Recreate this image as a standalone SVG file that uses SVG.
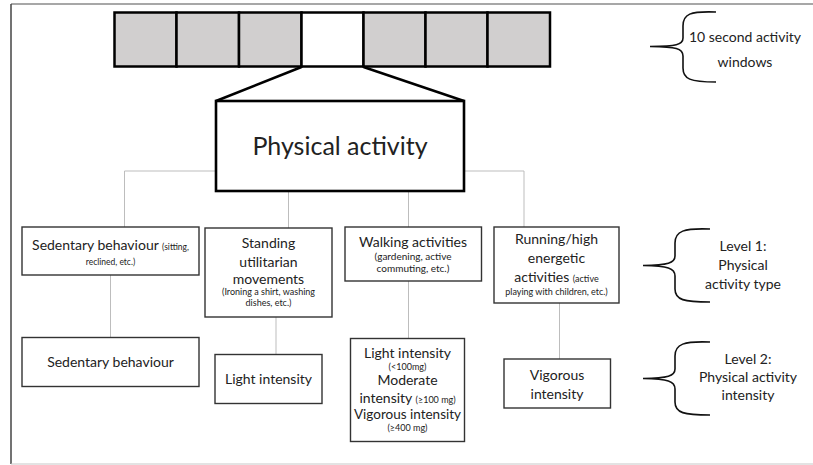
<svg xmlns="http://www.w3.org/2000/svg" width="813" height="465" viewBox="0 0 813 465">
<style>
text{font-family:Lato,"Open Sans","DejaVu Sans",sans-serif;fill:#222;text-anchor:middle}
.m{font-size:14px}
.s{font-size:9px}
.lv{font-size:14px}
.box{fill:#fff;stroke:#333;stroke-width:1.4}
.cell{fill:#d1cfcf;stroke:#000;stroke-width:2.5}
.con{stroke:#bdbdbd;stroke-width:1;fill:none}
.brace{fill:none;stroke:#111;stroke-width:1.6}
</style>
<rect width="813" height="465" fill="#fff"/>
<g id="frame">
<line x1="11" y1="4" x2="813" y2="4" stroke="#8a8a8a" stroke-width="1.5"/>
<line x1="11" y1="4" x2="11" y2="464" stroke="#444" stroke-width="1.5"/>
<line x1="11" y1="464" x2="813" y2="464" stroke="#c8c8c8" stroke-width="1.2"/>
</g>
<g id="windows">
<rect class="cell" x="114.5" y="12.5" width="62" height="54"/>
<rect class="cell" x="176.5" y="12.5" width="62.5" height="54"/>
<rect class="cell" x="239" y="12.5" width="62.5" height="54"/>
<rect class="cell" x="301.5" y="12.5" width="62" height="54" style="fill:#fff"/>
<rect class="cell" x="363.5" y="12.5" width="62" height="54"/>
<rect class="cell" x="425.5" y="12.5" width="62" height="54"/>
<rect class="cell" x="487.5" y="12.5" width="62.5" height="54"/>
</g>
<g id="connectors">
<polyline points="301.5,67 216,101" fill="none" stroke="#000" stroke-width="2.5"/>
<polyline points="363.5,67 464,101" fill="none" stroke="#000" stroke-width="2.5"/>
<polyline class="con" points="124.5,227 124.5,171 524,171 524,227"/>
<line class="con" x1="288.5" y1="171" x2="288.5" y2="228"/>
<line class="con" x1="408.5" y1="171" x2="408.5" y2="227"/>
<line class="con" x1="110.5" y1="275" x2="110.5" y2="337"/>
<line class="con" x1="276" y1="317" x2="276" y2="354"/>
<line class="con" x1="408.5" y1="281" x2="408.5" y2="339"/>
<line class="con" x1="559.5" y1="303" x2="559.5" y2="359"/>
</g>
<g id="physical-activity">
<rect x="216" y="101" width="248" height="90" fill="#fff" stroke="#000" stroke-width="2.6"/>
<text x="340" y="155" style="font-size:25px">Physical activity</text>
</g>
<g id="sedentary-type">
<rect class="box" x="22" y="227" width="177" height="48"/>
<text x="110.5" y="250"><tspan class="m">Sedentary behaviour </tspan><tspan class="s" style="font-size:8.5px">(sitting,</tspan></text>
<text class="s" x="110.5" y="265" style="font-size:8.5px">reclined, etc.)</text>
</g>
<g id="standing-type">
<rect class="box" x="205" y="228" width="127" height="89"/>
<text class="m" x="268.5" y="248">Standing</text>
<text class="m" x="268.5" y="266.5">utilitarian</text>
<text class="m" x="268.5" y="283.5">movements</text>
<text class="s" x="268.5" y="295">(Ironing a shirt, washing</text>
<text class="s" x="268.5" y="305.5">dishes, etc.)</text>
</g>
<g id="walking-type">
<rect class="box" x="345" y="227" width="136.5" height="54"/>
<text class="m" x="413" y="246.5">Walking activities</text>
<text class="s" x="413" y="260" style="font-size:10px">(gardening, active</text>
<text class="s" x="413" y="272" style="font-size:10px">commuting, etc.)</text>
</g>
<g id="running-type">
<rect class="box" x="494" y="227" width="125" height="76"/>
<text class="m" x="556.5" y="243.5">Running/high</text>
<text class="m" x="556.5" y="262.5">energetic</text>
<text x="556.5" y="281.5"><tspan class="m">activities </tspan><tspan class="s">(active</tspan></text>
<text class="s" x="556.5" y="295">playing with children, etc.)</text>
</g>
<g id="sedentary-intensity">
<rect class="box" x="22" y="337.5" width="177" height="49"/>
<text class="m" x="110.5" y="367">Sedentary behaviour</text>
</g>
<g id="light-intensity">
<rect class="box" x="215" y="354.5" width="107" height="49"/>
<text class="m" x="268.5" y="384">Light intensity</text>
</g>
<g id="walking-intensity">
<rect class="box" x="350.5" y="338.5" width="114" height="103"/>
<text class="m" x="407.5" y="358">Light intensity</text>
<text class="s" x="407.5" y="370">(&lt;100mg)</text>
<text class="m" x="407.5" y="384.5">Moderate</text>
<text x="407.5" y="402.5"><tspan class="m">intensity </tspan><tspan class="s">(≥100 mg)</tspan></text>
<text class="m" x="407.5" y="419" style="font-size:13.5px">Vigorous intensity</text>
<text class="s" x="407.5" y="431">(≥400 mg)</text>
</g>
<g id="vigorous-intensity">
<rect class="box" x="504" y="359" width="106.5" height="49"/>
<text class="m" x="557" y="380">Vigorous</text>
<text class="m" x="557" y="398.5">intensity</text>
</g>
<g id="label-windows">
<path class="brace" d="M716,12 C690,11 683,14 683,26 L683,38 C683,45 676,46 650,46.5 C676,47 683,48 683,56 L683,68 C683,79 690,82 716,82"/>
<text class="lv" x="745" y="41.5">10 second activity</text>
<text class="lv" x="745" y="66.5">windows</text>
</g>
<g id="label-level1">
<path class="brace" d="M710,229 C684,228 675,231 675,243 L675,256 C675,263 668,265 643,265.5 C668,266 675,268 675,276 L675,289 C675,300 684,302 710,302"/>
<text class="lv" x="743" y="251">Level 1:</text>
<text class="lv" x="743" y="270">Physical</text>
<text class="lv" x="743" y="288.5">activity type</text>
</g>
<g id="label-level2">
<path class="brace" d="M710,342 C684,341 675,344 675,356 L675,369 C675,376 668,378 643,378.5 C668,379 675,381 675,389 L675,402 C675,413 684,415 710,415"/>
<text class="lv" x="748" y="363.5">Level 2:</text>
<text class="lv" x="748" y="382">Physical activity</text>
<text class="lv" x="748" y="400">intensity</text>
</g>
</svg>
